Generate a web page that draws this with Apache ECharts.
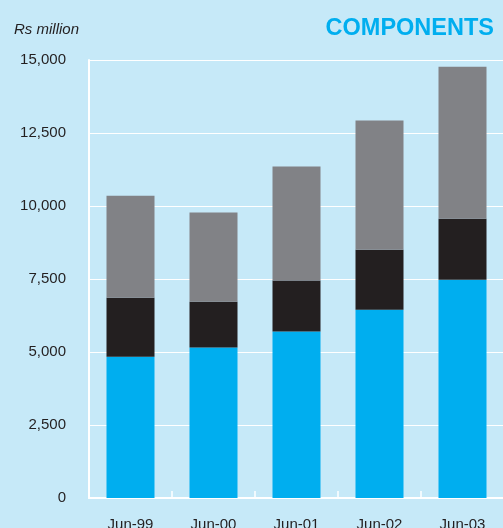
<!DOCTYPE html>
<html>
<head>
<meta charset="utf-8">
<script src="https://cdn.jsdelivr.net/npm/echarts@6/dist/echarts.min.js"></script>
<style>
html,body{margin:0;padding:0;background:#c6e9f8;}
#chart{width:503px;height:528px;}
</style>
</head>
<body>
<div id="chart"></div>
<script>
var categories = ["Jun-99", "Jun-00", "Jun-01", "Jun-02", "Jun-03"];
var blueData = [4840, 5150, 5700, 6450, 7475];
var blackData = [2020, 1575, 1745, 2055, 2090];
var greyData = [3495, 3050, 3905, 4420, 5205];
var yTicks = {min: 0, max: 15000, interval: 2500};

var fontName = "Liberation Sans, Arial, sans-serif";

function numFormatter(value) {
    return value.toString().replace(/\B(?=(\d{3})+(?!\d))/g, ",");
}

function barSeries(name, data, color) {
    return {
        name: name,
        type: "bar",
        stack: "total",
        barWidth: 48,
        data: data,
        itemStyle: {color: color},
        emphasis: {disabled: true}
    };
}

var option = {
    backgroundColor: "#c6e9f8",
    animation: false,
    title: [
        {
            text: "COMPONENTS",
            right: 4,
            top: 12,
            textStyle: {color: "#00aeef", fontSize: 23.5, fontWeight: "bold", fontFamily: fontName}
        },
        {
            text: "Rs million",
            left: 9,
            top: 17,
            textStyle: {color: "#231f20", fontSize: 15, fontStyle: "italic", fontWeight: "normal", fontFamily: fontName}
        }
    ],
    grid: {left: 89, right: -1, top: 60, bottom: 30, outerBoundsMode: "none", containLabel: false},
    xAxis: {
        type: "category",
        data: categories,
        axisLine: {lineStyle: {color: "#ffffff", width: 2}},
        axisTick: {show: true, inside: true, length: 7, lineStyle: {color: "#ffffff", width: 1.5}},
        axisLabel: {color: "#231f20", fontSize: 15, fontFamily: fontName, margin: 19}
    },
    yAxis: {
        type: "value",
        min: yTicks.min,
        max: yTicks.max,
        interval: yTicks.interval,
        axisLine: {show: true, lineStyle: {color: "#ffffff", width: 2}},
        axisTick: {show: false},
        splitLine: {lineStyle: {color: "#ffffff", width: 1.2}},
        axisLabel: {color: "#231f20", fontSize: 15, fontFamily: fontName, margin: 23,
            padding: [8, 0, 0, 0], formatter: numFormatter}
    },
    series: [
        barSeries("blue", blueData, "#00aeef"),
        barSeries("black", blackData, "#231f20"),
        barSeries("grey", greyData, "#818286")
    ]
};

var chart = echarts.init(document.getElementById("chart"));
chart.setOption(option, true);
</script>
</body>
</html>
